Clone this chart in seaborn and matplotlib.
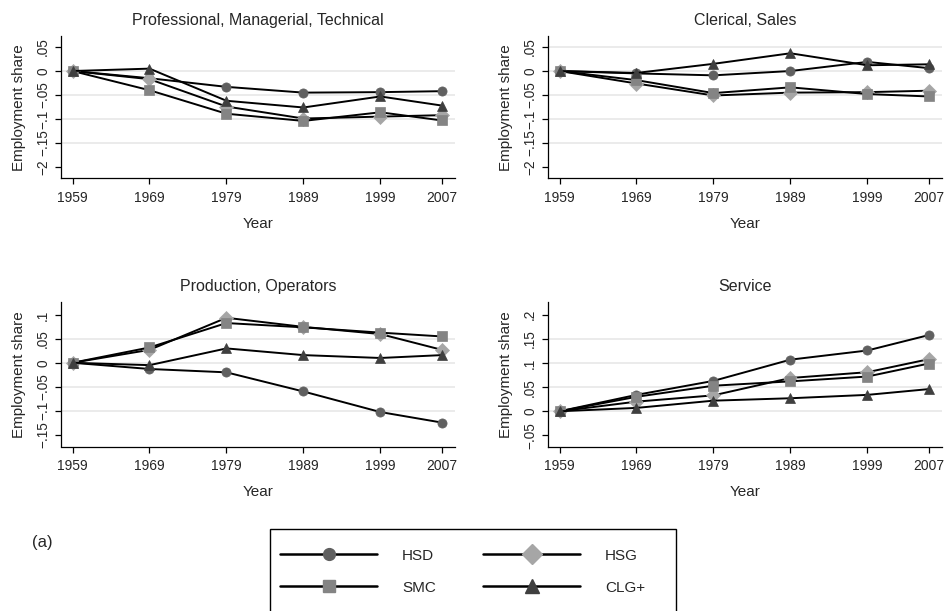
import numpy as np
import pandas as pd
import seaborn as sns
import matplotlib
matplotlib.use("Agg")
import matplotlib.pyplot as plt
from matplotlib.lines import Line2D
from matplotlib.patches import Rectangle

# ---------------- data ----------------
years = [1959, 1969, 1979, 1989, 1999, 2007]
groups = ["HSD", "HSG", "SMC", "CLG+"]

prof_hsd = [0.0, -0.015, -0.033, -0.045, -0.044, -0.042]
prof_hsg = [0.0, -0.017, -0.074, -0.099, -0.095, -0.092]
prof_smc = [0.0, -0.040, -0.089, -0.104, -0.086, -0.103]
prof_clg = [0.0, 0.005, -0.062, -0.076, -0.053, -0.072]

cler_hsd = [0.0, -0.005, -0.009, 0.000, 0.019, 0.006]
cler_hsg = [0.0, -0.026, -0.051, -0.045, -0.044, -0.041]
cler_smc = [0.0, -0.019, -0.046, -0.034, -0.048, -0.053]
cler_clg = [0.0, -0.004, 0.015, 0.037, 0.012, 0.014]

prod_hsd = [0.0, -0.013, -0.020, -0.060, -0.103, -0.125]
prod_hsg = [0.0, 0.027, 0.094, 0.075, 0.060, 0.027]
prod_smc = [0.0, 0.032, 0.083, 0.074, 0.063, 0.055]
prod_clg = [0.0, -0.005, 0.030, 0.016, 0.010, 0.016]

serv_hsd = [0.0, 0.034, 0.063, 0.107, 0.126, 0.158]
serv_hsg = [0.0, 0.020, 0.033, 0.069, 0.081, 0.108]
serv_smc = [0.0, 0.030, 0.053, 0.062, 0.072, 0.099]
serv_clg = [0.0, 0.007, 0.022, 0.027, 0.034, 0.046]

titles = ["Professional, Managerial, Technical", "Clerical, Sales",
          "Production, Operators", "Service"]
panel_values = [
    [prof_hsd, prof_hsg, prof_smc, prof_clg],
    [cler_hsd, cler_hsg, cler_smc, cler_clg],
    [prod_hsd, prod_hsg, prod_smc, prod_clg],
    [serv_hsd, serv_hsg, serv_smc, serv_clg],
]
ytick_vals = [
    [0.05, 0.0, -0.05, -0.10, -0.15, -0.20],
    [0.05, 0.0, -0.05, -0.10, -0.15, -0.20],
    [0.10, 0.05, 0.0, -0.05, -0.10, -0.15],
    [0.20, 0.15, 0.10, 0.05, 0.0, -0.05],
]
ytick_labels = [
    [".05", "0", "\u2212.05", "\u2212.1", "\u2212.15", "\u22122"],
    [".05", "0", "\u2212.05", "\u2212.1", "\u2212.15", "\u22122"],
    [".1", ".05", "0", "\u2212.05", "\u2212.1", "\u2212.15"],
    [".2", ".15", ".1", ".05", "0", "\u2212.05"],
]

# ---------------- style ----------------
sns.set_theme(style="white")
plt.rcParams["font.family"] = ["Liberation Sans", "DejaVu Sans"]

markers = {"HSD": "o", "HSG": "D", "SMC": "s", "CLG+": "^"}
mcolors = {"HSD": "#606060", "HSG": "#a6a6a6", "SMC": "#848484", "CLG+": "#3f3f3f"}
msizes = {"HSD": 6.6, "HSG": 7.6, "SMC": 6.6, "CLG+": 7.4}
leg_msizes = {"HSD": 8.5, "HSG": 10.5, "SMC": 9.0, "CLG+": 10.0}

W, H = 945, 611
fig = plt.figure(figsize=(W / 100, H / 100), dpi=100)


def axbox(l, t, r, b):
    return [l / W, 1 - b / H, (r - l) / W, (b - t) / H]


boxes = [axbox(61, 36, 455, 178.5), axbox(548, 36, 942, 178.5),
         axbox(61, 302, 455, 446.5), axbox(548, 302, 942, 446.5)]
ylims = [(-0.224, 0.073), (-0.224, 0.073), (-0.175, 0.127), (-0.073, 0.2265)]
grid_sets = [
    [0.0, -0.05, -0.10, -0.15],
    [0.05, 0.0, -0.05, -0.10, -0.15],
    [0.05, 0.0, -0.05, -0.10],
    [0.15, 0.10, 0.05, 0.0],
]

for i in range(4):
    ax = fig.add_axes(boxes[i])
    rows = []
    for g, vals in zip(groups, panel_values[i]):
        for yr, v in zip(years, vals):
            rows.append({"year": yr, "value": v, "group": g})
    df = pd.DataFrame(rows)

    for gy in grid_sets[i]:
        ax.axhline(gy, color="#e6e6e6", lw=1.1, zorder=0)

    for g in groups:
        sub = df[df["group"] == g]
        sns.lineplot(data=sub, x="year", y="value", ax=ax, color="black",
                     lw=1.4, marker=markers[g], markersize=msizes[g],
                     markerfacecolor=mcolors[g], markeredgecolor=mcolors[g],
                     markeredgewidth=0.5, errorbar=None, legend=False,
                     zorder=3)

    ax.set_xlim(1957.5, 2008.7)
    ax.set_ylim(*ylims[i])
    ax.set_xticks(years)
    ax.set_xticklabels([str(y) for y in years], fontsize=10)
    ax.set_yticks(ytick_vals[i])
    ax.set_yticklabels(ytick_labels[i], fontsize=9.8)
    for lbl in ax.get_yticklabels():
        lbl.set_rotation(90)
        lbl.set_va("center")
        lbl.set_ha("right")
    ax.tick_params(axis="both", which="major", direction="out", length=4.3,
                   width=0.9, color="black", bottom=True, left=True)
    ax.tick_params(axis="y", pad=3.5)
    ax.tick_params(axis="x", pad=4.5)
    for s in ["top", "right"]:
        ax.spines[s].set_visible(False)
    for s in ["left", "bottom"]:
        ax.spines[s].set_color("black")
        ax.spines[s].set_linewidth(0.9)
    ax.set_xlabel("Year", fontsize=11, labelpad=9)
    ax.set_ylabel("Employment share", fontsize=11, labelpad=7)
    ax.set_title(titles[i], fontsize=11.5, pad=8)

# legend
order = ["HSD", "SMC", "HSG", "CLG+"]
handles = [Line2D([0], [0], color="black", lw=1.8, marker=markers[g],
                  markersize=leg_msizes[g], markerfacecolor=mcolors[g],
                  markeredgecolor=mcolors[g]) for g in order]
fig.legend(handles, order, loc="upper left",
           bbox_to_anchor=(280 / W, 1 - 548.5 / H), ncol=2, frameon=False,
           fontsize=11, handlelength=6.35, handletextpad=1.63,
           columnspacing=3.1, labelspacing=1.2, borderpad=0,
           borderaxespad=0)
fig.patches.append(Rectangle((270 / W, 1 - 625 / H), 406 / W, 96 / H,
                             transform=fig.transFigure, fill=False,
                             edgecolor="black", lw=1.0))
fig.text(32 / W, 1 - 542 / H, "(a)", fontsize=12, va="center", ha="left")

fig.savefig("out.png", dpi=100)
